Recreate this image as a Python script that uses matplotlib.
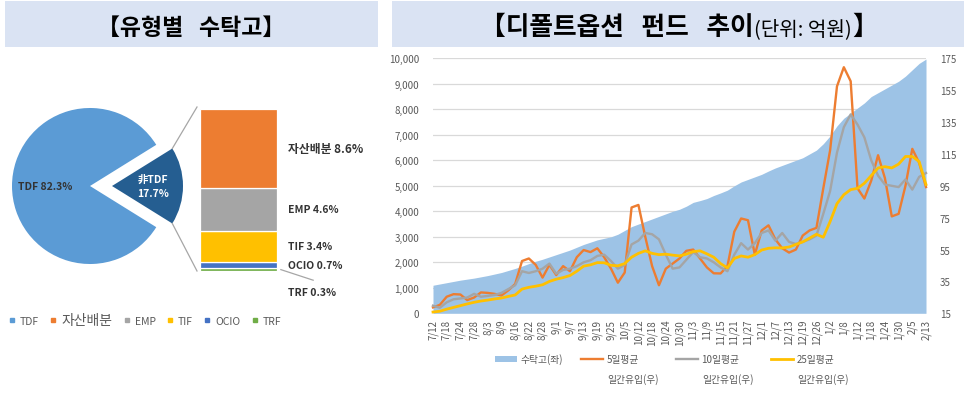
import numpy as np
import matplotlib
matplotlib.use('Agg')
import matplotlib.pyplot as plt
from matplotlib.lines import Line2D
from matplotlib.patches import Rectangle, Patch
from matplotlib.ticker import FuncFormatter

plt.rcParams['font.family'] = ['Noto Sans CJK KR', 'DejaVu Sans']

# left panel: 유형별 수탁고 (%)
pie_labels = ['TDF', '非TDF']
pie_shares = [82.3, 17.7]
bar_types = ['TRF', 'OCIO', 'TIF', 'EMP', '자산배분']   # bottom -> top
bar_shares = [0.3, 0.7, 3.4, 4.6, 8.6]
legend_types = ['TDF', '자산배분', 'EMP', 'TIF', 'OCIO', 'TRF']

# right panel: 디폴트옵션 펀드 추이 (every 2nd trading day, 7/12 ~ 2/13)
tick_dates = ['7/12', '7/18', '7/24', '7/28', '8/3', '8/9', '8/16', '8/22', '8/28', '9/1',
              '9/7', '9/13', '9/19', '9/25', '10/5', '10/12', '10/18', '10/24', '10/30', '11/3',
              '11/9', '11/15', '11/21', '11/27', '12/1', '12/7', '12/13', '12/19', '12/26', '1/2',
              '1/8', '1/12', '1/18', '1/24', '1/30', '2/5', '2/13']

aum = [1100, 1150, 1200, 1250, 1300, 1340, 1380, 1430, 1480, 1540,
       1600, 1680, 1760, 1850, 1950, 2040, 2120, 2210, 2300, 2390,
       2480, 2590, 2700, 2790, 2880, 2940, 3000, 3100, 3250, 3400,
       3500, 3600, 3700, 3800, 3900, 4000, 4080, 4200, 4350, 4420,
       4500, 4620, 4720, 4830, 5000, 5150, 5250, 5350, 5450, 5580,
       5700, 5800, 5900, 6000, 6100, 6250, 6400, 6650, 6960, 7350,
       7650, 7850, 8050, 8250, 8500, 8650, 8800, 8950, 9100, 9300,
       9550, 9800, 9970]

flow5 = [18.7, 20.3, 25.4, 27.0, 26.8, 23.3, 24.9, 28.1, 27.8, 27.2,
         26.2, 29.4, 33.4, 47.8, 49.4, 45.4, 37.4, 45.4, 39.0, 44.6,
         41.4, 50.2, 54.7, 53.4, 55.8, 50.2, 43.0, 34.2, 40.6, 81.4,
         83.0, 63.0, 44.6, 32.6, 43.0, 46.2, 49.4, 54.2, 55.0, 49.4,
         43.8, 40.1, 40.0, 44.6, 66.2, 74.5, 73.4, 51.8, 67.0, 70.2,
         61.4, 55.8, 53.1, 55.0, 63.8, 67.0, 68.6, 93.4, 117.4, 157.4,
         169.4, 160.6, 93.4, 87.0, 98.2, 114.2, 99.8, 75.8, 77.4, 95.0,
         118.2, 109.4, 94.2]

flow10 = [19.8, 18.5, 21.9, 23.8, 24.3, 24.9, 27.2, 25.4, 25.9, 26.5,
          27.8, 30.2, 32.6, 41.4, 40.3, 41.4, 43.0, 46.2, 39.8, 42.2,
          43.0, 44.6, 47.0, 48.3, 51.0, 51.8, 47.8, 43.0, 45.4, 58.2,
          60.6, 65.4, 64.6, 61.4, 51.8, 43.0, 43.8, 48.6, 53.4, 50.2,
          49.4, 47.0, 43.8, 41.4, 51.8, 59.0, 55.0, 59.0, 65.4, 67.0,
          60.6, 65.4, 59.8, 58.5, 59.8, 61.4, 63.8, 77.4, 91.8, 115.8,
          131.8, 139.8, 133.4, 125.4, 111.0, 101.4, 95.8, 95.0, 94.2, 99.0,
          92.6, 100.6, 103.0]

flow25 = [15.8, 16.3, 17.6, 18.7, 19.8, 20.9, 21.9, 22.7, 23.3, 24.0,
          24.6, 25.6, 26.5, 30.2, 31.3, 32.0, 32.9, 35.0, 36.4, 37.4,
          38.7, 41.4, 44.6, 45.4, 46.8, 46.7, 45.1, 44.8, 46.2, 50.2,
          52.6, 54.2, 52.6, 51.8, 52.1, 51.5, 51.0, 52.1, 53.7, 54.2,
          52.3, 50.2, 46.2, 43.5, 49.4, 51.0, 50.2, 51.8, 54.7, 55.8,
          56.1, 56.0, 56.6, 58.2, 59.8, 62.2, 64.6, 62.7, 72.6, 83.8,
          89.4, 92.6, 93.4, 96.6, 101.4, 106.2, 107.0, 106.2, 108.6, 113.4,
          113.4, 110.2, 95.8]

W, H = 971, 402
type_colors = {'TDF': '#5B9BD5', '非TDF': '#255E91', '자산배분': '#ED7D31', 'EMP': '#A5A5A5',
               'TIF': '#FFC000', 'OCIO': '#4472C4', 'TRF': '#70AD47'}
txt_dark = '#333333'
txt_gray = '#595959'

fig = plt.figure(figsize=(W / 100, H / 100), dpi=100)

# title boxes
for x0, x1 in [(5, 378), (392, 964)]:
    fig.add_artist(Rectangle((x0 / W, 1 - 48 / H), (x1 - x0) / W, 46 / H,
                             transform=fig.transFigure, facecolor='#DAE3F3', edgecolor='none'))
fig.text(191 / W, 1 - 35 / H, '【유형별   수탁고】', fontsize=16.5, fontweight='bold',
         ha='center', va='baseline')

renderer = fig.canvas.get_renderer()
pieces = [fig.text(0, 1 - 35 / H, '【디폴트옵션   펀드   추이', fontsize=18.5, fontweight='bold', va='baseline'),
          fig.text(0, 1 - 35 / H, '(단위: 억원)', fontsize=14.5, va='baseline'),
          fig.text(0, 1 - 35 / H, '】', fontsize=18.5, fontweight='bold', va='baseline')]
widths = [p.get_window_extent(renderer).width for p in pieces]
xpos = 679 - sum(widths) / 2
for p, w in zip(pieces, widths):
    p.set_x(xpos / W)
    xpos += w

# ---------- left: pie of bar ----------
axl = fig.add_axes([0, 0, 390 / W, 1])
pie_c, pie_r = (90, 187), 78
small_c, small_r = (112, 187), 71
w_big, _ = axl.pie(pie_shares, colors=[type_colors['TDF'], 'none'], radius=pie_r, center=pie_c,
                   startangle=180 * pie_shares[1] / 100, wedgeprops=dict(lw=0))
w_small, _ = axl.pie(pie_shares, colors=['none', type_colors['非TDF']], radius=small_r, center=small_c,
                     startangle=180 * pie_shares[1] / 100, wedgeprops=dict(lw=0))
axl.set_xlim(0, 390)
axl.set_ylim(H, 0)
axl.set_aspect('equal')
axl.axis('off')

axl.text(pie_c[0] - 0.58 * pie_r, pie_c[1], f'{pie_labels[0]} {pie_shares[0]}%', fontsize=7.5,
         fontweight='bold', color=txt_dark, ha='center', va='center')
axl.text(small_c[0] + 0.58 * small_r, small_c[1], f'{pie_labels[1]}\n{pie_shares[1]}%', fontsize=7.5,
         fontweight='bold', color='white', ha='center', va='center', linespacing=1.5)

# stacked bar
bx0, bx1, by0, by1 = 200, 277, 110, 272
axb = fig.add_axes([bx0 / W, 1 - by1 / H, (bx1 - bx0) / W, (by1 - by0) / H])
bottom = 0
centers = []
for name, v in zip(bar_types, bar_shares):
    axb.bar(0, v, bottom=bottom, width=1, color=type_colors[name], edgecolor='white', lw=0.9)
    centers.append(bottom + v / 2)
    bottom += v
axb.set_xlim(-0.5, 0.5)
axb.set_ylim(0, bottom)
axb.axis('off')
for name, v, c in zip(bar_types, bar_shares, centers):
    if name == 'TRF':
        axb.plot([0.55, 0.97], [c, -1.0], color='#A6A6A6', lw=0.9, clip_on=False)
        axb.text(0.64, -2.25, f'{name} {v}%', fontsize=7.5, fontweight='bold', color=txt_dark,
                 va='center', clip_on=False)
    elif name == '자산배분':
        axb.text(0.64, c, f'{name} {v}%', fontsize=8.5, fontweight='bold', color=txt_dark,
                 va='center', clip_on=False)
    else:
        axb.text(0.64, c, f'{name} {v}%', fontsize=7.5, fontweight='bold', color=txt_dark,
                 va='center', clip_on=False)

# connector lines from the small wedge to the bar
wd = w_small[1]
for ang, by in [(wd.theta1, by0 - 2), (wd.theta2, by1)]:
    px = small_c[0] + small_r * np.cos(np.radians(ang))
    py = small_c[1] + small_r * np.sin(np.radians(ang))
    axl.plot([px, bx0 - 3], [py, by], color='#A6A6A6', lw=0.9)

handles = [Line2D([], [], marker='s', ls='none', color=type_colors[t], markersize=3.5) for t in legend_types]
leg = axl.legend(handles, legend_types, loc='center left', bbox_to_anchor=(5 / 390, 1 - 321 / H),
                 ncol=6, frameon=False, fontsize=7.5, handlelength=0.5, handletextpad=0.5,
                 columnspacing=1.15, labelcolor=txt_gray, borderaxespad=0)
leg.get_texts()[1].set_fontsize(10)

# ---------- right: area + flow lines ----------
ax = fig.add_axes([433 / W, (H - 314.3) / H, 493 / W, 255 / H])
x = np.arange(len(aum))
ax.fill_between(x, aum, color='#9DC3E6', lw=0, zorder=2)
ax.set_xlim(0, len(aum) - 1)
ax.set_ylim(0, 10000)
ax.set_yticks(np.arange(0, 10001, 1000))
ax.yaxis.set_major_formatter(FuncFormatter(lambda v, p: f'{v:,.0f}'))
ax.grid(axis='y', color='#D9D9D9', lw=0.9, zorder=0)
ax.set_axisbelow(True)
ax.set_xticks(x[::2])
ax.set_xticklabels(tick_dates, rotation=90)
ax.tick_params(axis='both', length=0, labelsize=7, labelcolor=txt_gray)
ax.tick_params(axis='y', pad=10)
ax.tick_params(axis='x', pad=4)
for s in ax.spines.values():
    s.set_visible(False)

ax2 = ax.twinx()
l5, = ax2.plot(x, flow5, color='#ED7D31', lw=1.7, clip_on=False)
l10, = ax2.plot(x, flow10, color='#A5A5A5', lw=1.7, clip_on=False)
l25, = ax2.plot(x, flow25, color='#FFC000', lw=2.0, clip_on=False)
ax2.set_ylim(15, 175)
ax2.set_yticks(np.arange(15, 176, 20))
ax2.tick_params(axis='y', length=0, labelsize=7, labelcolor=txt_gray, pad=10)
for s in ax2.spines.values():
    s.set_visible(False)

# legend: one entry per column, second line of label below
entries = [(Patch(facecolor='#9DC3E6', edgecolor='none'), '수탁고(좌)', 495),
           (l5, '5일평균', 581),
           (l10, '10일평균', 676),
           (l25, '25일평균', 771)]
for h, lab, lx in entries:
    lg = fig.legend([h], [lab], loc='center left', bbox_to_anchor=(lx / W, 1 - 360 / H), frameon=False,
                    fontsize=7, handlelength=2.3, handleheight=0.6, handletextpad=0.3,
                    labelcolor=txt_gray, borderaxespad=0, borderpad=0)
    if lab != '수탁고(좌)':
        fig.canvas.draw()
        bb = lg.get_texts()[0].get_window_extent(renderer)
        fig.text((bb.x0 + 1) / W, 1 - 380 / H, '일간유입(우)', fontsize=7, color=txt_gray, va='center')

fig.savefig('out.png', dpi=100)
